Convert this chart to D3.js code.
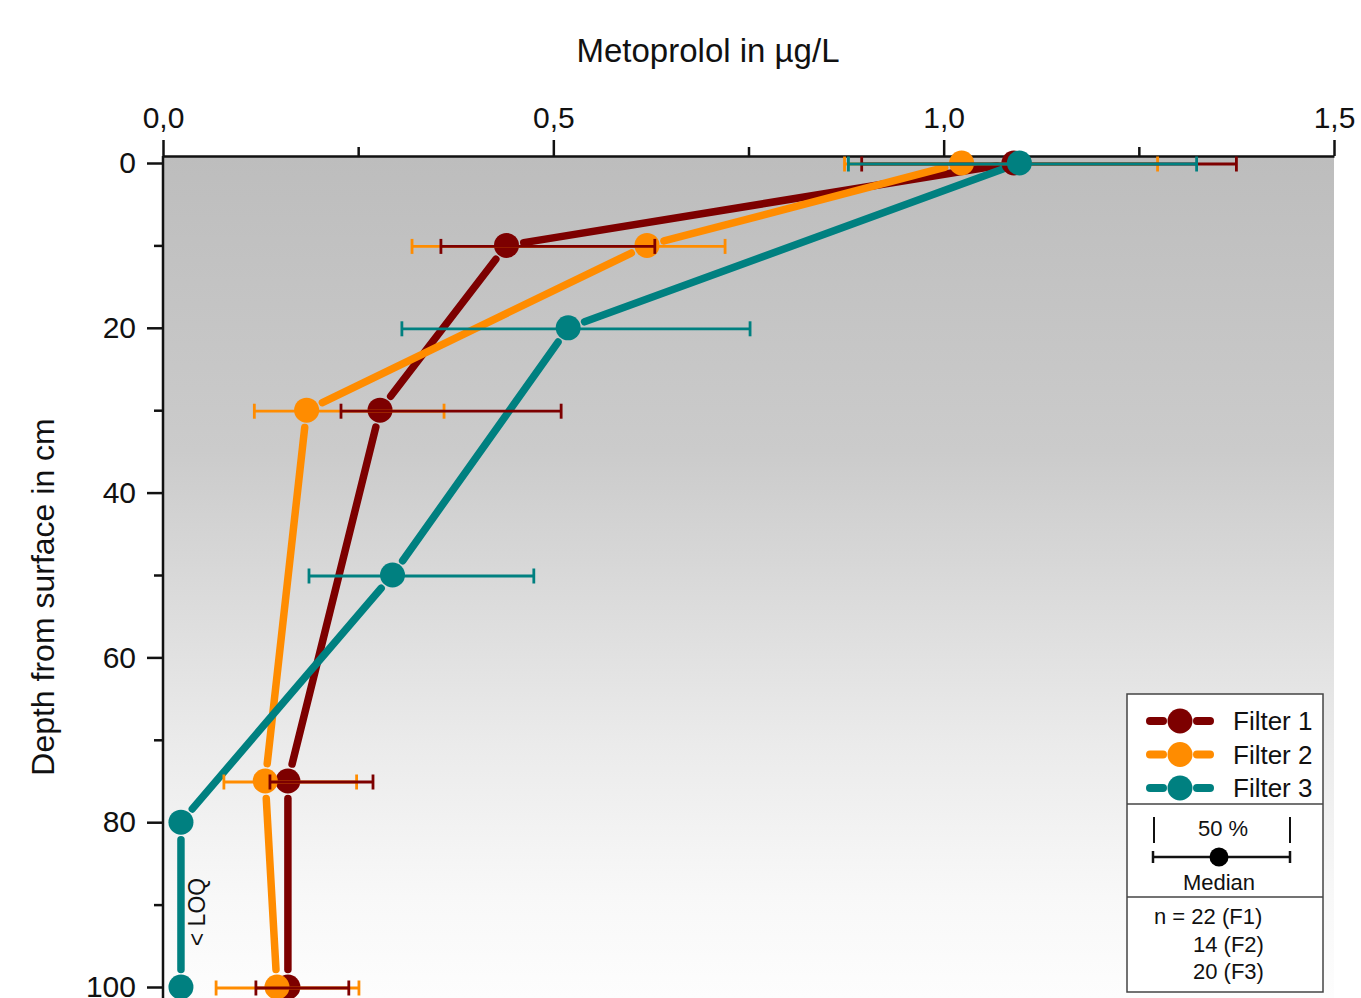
<!DOCTYPE html>
<html>
<head>
<meta charset="utf-8">
<script src="https://cdn.jsdelivr.net/npm/d3@7"></script>
<style>
  body { margin: 0; background: #fff; }
  svg { display: block; font-family: "Liberation Sans", Arial, sans-serif; }
</style>
</head>
<body>
<div id="chart"></div>
<script>
// data (x = metoprolol in ug/L, depth in cm)
var seriesNames = ["Filter 1", "Filter 2", "Filter 3"];
var seriesColors = ["#7d0000", "#ff8c00", "#008080"];

var f1Depth = [0, 10, 30, 75, 100];
var f1Median = [1.09, 0.44, 0.278, 0.16, 0.16];
var f1Low = [0.895, 0.356, 0.228, 0.137, 0.119];
var f1High = [1.375, 0.63, 0.51, 0.269, 0.238];

var f2Depth = [0, 10, 30, 75, 100];
var f2Median = [1.023, 0.62, 0.184, 0.131, 0.146];
var f2Low = [0.873, 0.319, 0.117, 0.078, 0.068];
var f2High = [1.274, 0.72, 0.36, 0.248, 0.251];

var f3Depth = [0, 20, 50, 80, 100];
var f3Median = [1.097, 0.519, 0.294, 0.023, 0.023];
var f3Low = [0.878, 0.306, 0.187, null, null];
var f3High = [1.324, 0.752, 0.475, null, null];

var xMajor = [0, 0.5, 1.0, 1.5];
var xMinor = [0.25, 0.75, 1.25];
var yMajor = [0, 20, 40, 60, 80, 100];
var yMinor = [10, 30, 50, 70, 90];
var nLabels = ["n = 22 (F1)", "14 (F2)", "20 (F3)"];

function build(depth, med, lo, hi) {
	return depth.map(function(d, i) { return {depth: d, med: med[i], lo: lo[i], hi: hi[i]}; });
}
var series = [
	build(f1Depth, f1Median, f1Low, f1High),
	build(f2Depth, f2Median, f2Low, f2High),
	build(f3Depth, f3Median, f3Low, f3High)
];

var width = 1361, height = 998;
var plotLeft = 163, plotRight = 1334, plotTop = 156;

var x = d3.scaleLinear().domain([0, 1.5]).range([plotLeft, plotRight]);
var y = d3.scaleLinear().domain([0, 100]).range([163, 987]);

var svg = d3.select("#chart").append("svg")
	.attr("width", width)
	.attr("height", height);

var grad = svg.append("defs").append("linearGradient")
	.attr("id", "bg").attr("x1", 0).attr("y1", 0).attr("x2", 0).attr("y2", 1);
grad.append("stop").attr("offset", "0%").attr("stop-color", "#bdbdbd");
grad.append("stop").attr("offset", "35%").attr("stop-color", "#cbcbcb");
grad.append("stop").attr("offset", "70%").attr("stop-color", "#ebebeb");
grad.append("stop").attr("offset", "88%").attr("stop-color", "#f8f8f8");
grad.append("stop").attr("offset", "100%").attr("stop-color", "#fdfdfd");

svg.append("rect")
	.attr("x", plotLeft).attr("y", plotTop)
	.attr("width", plotRight - plotLeft).attr("height", height - plotTop)
	.attr("fill", "url(#bg)");

// axes
var xAxis = svg.append("g")
	.attr("transform", "translate(0," + plotTop + ")")
	.call(d3.axisTop(x).tickValues(xMajor).tickSize(16).tickSizeOuter(0).tickPadding(9)
		.tickFormat(function(d) { return d3.format(".1f")(d).replace(".", ","); }));
svg.append("g")
	.attr("transform", "translate(0," + plotTop + ")")
	.call(d3.axisTop(x).tickValues(xMinor).tickSize(9).tickSizeOuter(0).tickFormat(""))
	.select(".domain").remove();

var yAxis = svg.append("g")
	.attr("transform", "translate(" + plotLeft + ",0)")
	.call(d3.axisLeft(y).tickValues(yMajor).tickSize(16).tickSizeOuter(0).tickPadding(11));
yAxis.select(".domain").attr("d", "M0," + plotTop + "V" + height);
svg.append("g")
	.attr("transform", "translate(" + plotLeft + ",0)")
	.call(d3.axisLeft(y).tickValues(yMinor).tickSize(9).tickFormat(""))
	.select(".domain").remove();

svg.selectAll(".domain, .tick line").attr("stroke", "#111").attr("stroke-width", 2.5);
svg.selectAll(".tick text")
	.attr("font-size", 30)
	.attr("font-family", "Liberation Sans, Arial, sans-serif")
	.attr("fill", "#111");
xAxis.selectAll(".tick text").attr("dy", "-0.1em");

svg.append("text")
	.attr("x", 708).attr("y", 62)
	.attr("text-anchor", "middle")
	.attr("font-size", 33).attr("fill", "#111")
	.text("Metoprolol in µg/L");

svg.append("text")
	.attr("transform", "translate(54,597) rotate(-90)")
	.attr("text-anchor", "middle")
	.attr("font-size", 32).attr("fill", "#111")
	.text("Depth from surface in cm");

var r = 12.5, gap = 5;

// connecting lines with gaps at the markers
var lineLayer = svg.append("g");
series.forEach(function(s, k) {
	var segs = d3.pairs(s);
	lineLayer.selectAll(null).data(segs).enter().append("line")
		.each(function(p) {
			var x1 = x(p[0].med), y1 = y(p[0].depth), x2 = x(p[1].med), y2 = y(p[1].depth);
			var len = Math.hypot(x2 - x1, y2 - y1), cut = r + gap;
			var ux = (x2 - x1) / len, uy = (y2 - y1) / len;
			d3.select(this)
				.attr("x1", x1 + ux * cut).attr("y1", y1 + uy * cut)
				.attr("x2", x2 - ux * cut).attr("y2", y2 - uy * cut);
		})
		.attr("stroke", seriesColors[k])
		.attr("stroke-width", 7.5)
		.attr("stroke-linecap", "round");
});

function errorBars(k) {
	var g = svg.append("g").attr("stroke", seriesColors[k]).attr("stroke-width", 2.8);
	var d = series[k].filter(function(p) { return p.lo != null; });
	g.selectAll(null).data(d).enter().append("line")
		.attr("x1", function(p) { return x(p.lo); })
		.attr("x2", function(p) { return x(p.hi); })
		.attr("y1", function(p) { return y(p.depth) + 1; })
		.attr("y2", function(p) { return y(p.depth) + 1; });
	["lo", "hi"].forEach(function(key) {
		g.selectAll(null).data(d).enter().append("line")
			.attr("x1", function(p) { return x(p[key]); })
			.attr("x2", function(p) { return x(p[key]); })
			.attr("y1", function(p) { return y(p.depth) + 1 - 7.5; })
			.attr("y2", function(p) { return y(p.depth) + 1 + 7.5; });
	});
}
function markers(k) {
	svg.append("g").selectAll(null).data(series[k]).enter().append("circle")
		.attr("cx", function(p) { return x(p.med); })
		.attr("cy", function(p) { return y(p.depth); })
		.attr("r", r)
		.attr("fill", seriesColors[k]);
}

markers(0);
errorBars(1);
markers(1);
errorBars(0);
errorBars(2);
markers(2);

svg.append("text")
	.attr("transform", "translate(205,912) rotate(-90)")
	.attr("text-anchor", "middle")
	.attr("font-size", 23).attr("fill", "#111")
	.text("< LOQ");

// legend
var lg = svg.append("g");
lg.append("rect")
	.attr("x", 1127).attr("y", 694).attr("width", 196).attr("height", 298)
	.attr("fill", "#fff").attr("stroke", "#444").attr("stroke-width", 1.5);
[804, 897].forEach(function(yy) {
	lg.append("line").attr("x1", 1127).attr("x2", 1323).attr("y1", yy).attr("y2", yy)
		.attr("stroke", "#444").attr("stroke-width", 1.5);
});

seriesNames.forEach(function(name, i) {
	var yy = 721 + i * 33.5;
	[[1150, 1163], [1197, 1210]].forEach(function(seg) {
		lg.append("line").attr("x1", seg[0]).attr("x2", seg[1]).attr("y1", yy).attr("y2", yy)
			.attr("stroke", seriesColors[i]).attr("stroke-width", 8).attr("stroke-linecap", "round");
	});
	lg.append("circle").attr("cx", 1180).attr("cy", yy).attr("r", 12.5).attr("fill", seriesColors[i]);
	lg.append("text").attr("x", 1233).attr("y", yy + 9)
		.attr("font-size", 26).attr("fill", "#111").text(name);
});

lg.append("text").attr("x", 1223).attr("y", 836).attr("text-anchor", "middle")
	.attr("font-size", 22).attr("fill", "#111").text("50 %");
[1154, 1290].forEach(function(xx) {
	lg.append("line").attr("x1", xx).attr("x2", xx).attr("y1", 817).attr("y2", 843)
		.attr("stroke", "#111").attr("stroke-width", 2);
});
lg.append("line").attr("x1", 1153).attr("x2", 1290).attr("y1", 857).attr("y2", 857)
	.attr("stroke", "#111").attr("stroke-width", 2.5);
[1153, 1290].forEach(function(xx) {
	lg.append("line").attr("x1", xx).attr("x2", xx).attr("y1", 851).attr("y2", 863)
		.attr("stroke", "#111").attr("stroke-width", 2.5);
});
lg.append("circle").attr("cx", 1219).attr("cy", 857).attr("r", 9.5).attr("fill", "#000");
lg.append("text").attr("x", 1219).attr("y", 890).attr("text-anchor", "middle")
	.attr("font-size", 22).attr("fill", "#111").text("Median");

nLabels.forEach(function(t, i) {
	lg.append("text").attr("x", i === 0 ? 1154 : 1193).attr("y", 924 + i * 27.5)
		.attr("font-size", 22).attr("fill", "#111").text(t);
});
</script>
</body>
</html>
